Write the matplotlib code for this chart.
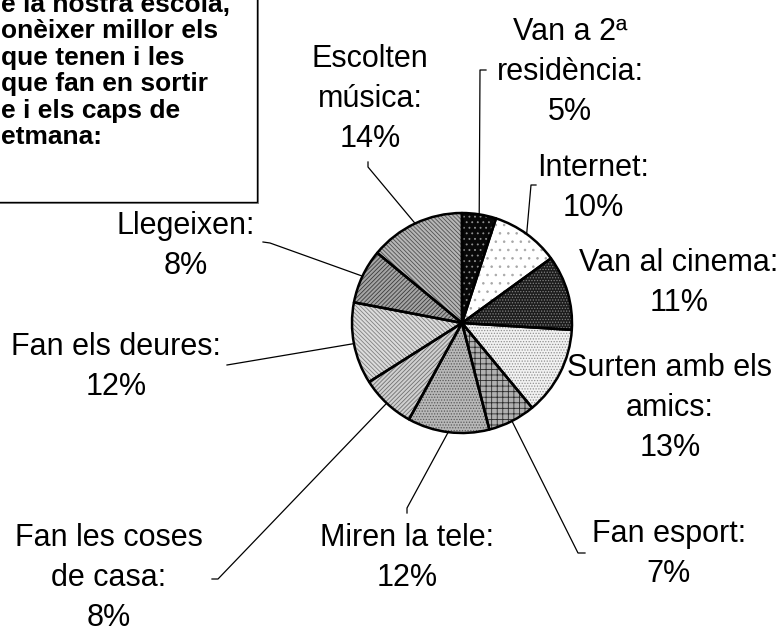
import matplotlib
matplotlib.use("Agg")
import matplotlib.pyplot as plt
from matplotlib.patches import Wedge, Rectangle
import numpy as np

# ---------------- data ----------------
categories = ["Van a 2ª\nresidència", "Internet", "Van al cinema", "Surten amb els\namics",
              "Fan esport", "Miren la tele", "Fan les coses\nde casa", "Fan els deures",
              "Llegeixen", "Escolten\nmúsica"]
values = [5, 10, 11, 13, 7, 12, 8, 12, 8, 14]

box_lines = ["e la nostra escola,", "onèixer millor els", "que tenen i les",
             "que fan en sortir", "e i els caps de", "etmana:"]

# ---------------- styles ----------------
base_colors = ["#080808", "#ffffff", "#1c1c1c", "#f2f2f2", "#b0b0b0",
               "#b8b8b8", "#d0d0d0", "#dcdcdc", "#a4a4a4", "#b6b6b6"]
hatches = ["...", "..", "......", "......", "+++", "......",
           "////////", "\\\\\\\\\\\\\\\\", "////////", "\\\\\\\\\\\\\\\\"]
hatch_colors = ["#909090", "#a8a8a8", "#808080", "#909090", "#2a2a2a",
                "#5a5a5a", "#707070", "#808080", "#3a3a3a", "#505050"]

W, H = 784, 632
plt.rcParams['hatch.linewidth'] = 0.6
plt.rcParams['font.family'] = ['Liberation Sans', 'DejaVu Sans']

fig = plt.figure(figsize=(W / 100, H / 100), dpi=100)
ax = fig.add_axes([0, 0, 1, 1])

def Y(yp):
    return H - yp

cx, cy, R = 462, Y(323), 110

wedges, _ = ax.pie(values, colors=base_colors, startangle=90, counterclock=False,
                   center=(cx, cy), radius=R, wedgeprops=dict(linewidth=0))
for w, hp, hc in zip(wedges, hatches, hatch_colors):
    ax.add_patch(Wedge(w.center, w.r, w.theta1, w.theta2, facecolor='none',
                       edgecolor=hc, hatch=hp, linewidth=0))
for w in wedges:
    ax.add_patch(Wedge(w.center, w.r, w.theta1, w.theta2, facecolor='none',
                       edgecolor='black', linewidth=1.8, joinstyle='round'))

# ---------------- labels (layout positions in pixels) ----------------
label_pos = [(570, 72), (593, 188), (679, 283), (670, 408), (669, 554),
             (407, 558), (109, 578), (116, 367), (186, 246), (370, 99)]
# leader hooks: points from the label end towards the wedge (None = no leader)
hooks = [[(486, 70), (480, 70)], [(536, 185), (531, 185)], None, None,
         [(585, 553), (578, 553)], [(407, 513), (407, 508)], [(212, 579), (218, 579)],
         [(227, 365), (233, 364)], [(263, 242), (270, 243)], [(368, 162), (368, 167)]]

for w, cat, val, (lx, ly), hk in zip(wedges, categories, values, label_pos, hooks):
    ax.text(lx, Y(ly), f"{cat}:\n{val}%", ha='center', va='center', multialignment='center',
            fontsize=22, linespacing=1.45, color='black')
    if hk is not None:
        mid = np.deg2rad((w.theta1 + w.theta2) / 2)
        ex, ey = cx + R * np.cos(mid), cy + R * np.sin(mid)
        xs = [p[0] for p in hk] + [ex]
        ys = [Y(p[1]) for p in hk] + [ey]
        ax.plot(xs, ys, color='black', linewidth=0.9, zorder=0.5)

# ---------------- text box (cut off top-left) ----------------
ax.add_patch(Rectangle((-10, Y(204)), 269, 214, facecolor='#888888', edgecolor='none', zorder=3))
ax.add_patch(Rectangle((-10, Y(202)), 267, 214, facecolor='white', edgecolor='black',
                       linewidth=1.0, zorder=3.1))
for i, line in enumerate(box_lines):
    ax.text(1, Y(5 + i * 26.5), line, ha='left', va='center', fontsize=19,
            fontweight='bold', zorder=4)

ax.set_xlim(0, W)
ax.set_ylim(0, H)
ax.set_aspect('equal')
ax.axis('off')
fig.savefig("out.png", dpi=100, facecolor='white')
